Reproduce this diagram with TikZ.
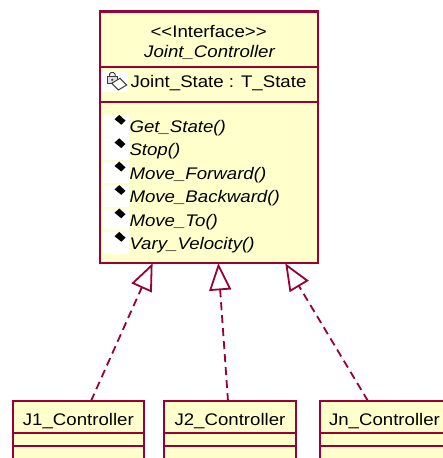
\documentclass[tikz,border=0pt]{standalone}
\usepackage{fontspec}
\setmainfont{Liberation Sans}[FakeStretch=1.11]
\usetikzlibrary{arrows.meta}
\definecolor{umlred}{RGB}{153,0,51}
\definecolor{umlfill}{RGB}{255,255,204}
\definecolor{icongray}{RGB}{60,60,60}
\begin{document}
\begin{tikzpicture}[x=1pt,y=-1pt,
  classbox/.style={draw=umlred, fill=umlfill, line width=2.2pt, rectangle, inner sep=0pt, outer sep=0pt, anchor=north west},
  sepline/.style={draw=umlred, line width=2pt},
  txt/.style={inner sep=0pt, outer sep=0pt, font=\fontsize{16.8}{20}\selectfont},
  itxt/.style={txt, font=\fontsize{16.8}{20}\selectfont\itshape},
  iconbg/.style={fill=white, draw=none},
  opdiamond/.style={fill=black, draw=none},
  realize/.style={draw=umlred, line width=1.8pt, dash pattern=on 8pt off 5pt,
    -{Triangle[length=27pt,width=22pt,fill=white,line width=1.8pt]}}]
\useasboundingbox (0,0) rectangle (443,458);
\fill[white] (0,0) rectangle (443,458);
\clip (0,0) rectangle (443,458);

% ---- interface class ----
\node[classbox, minimum width=217.8pt, minimum height=251.8pt] (main) at (99.8,11.5) {};
\draw[sepline] (99.8,67) -- (317.6,67);
\draw[sepline] (99.8,102) -- (317.6,102);
\node[txt, anchor=base] (stereo) at (208.6,37.5) {<{}<Interface>{}>};
\node[itxt, anchor=base] (cname) at (209.5,57.5) {Joint\_Controller};

% attribute icon
\fill[iconbg] (101,71) rectangle (127.5,92);
\draw[icongray, line width=1pt, rounded corners=1.5pt] (109.5,77) -- (109.5,72.5) -- (115,72.5) -- (115,77);
\draw[icongray, fill=gray!25, line width=1pt] (107,76.5) rectangle (117.5,83);
\fill[icongray] (112.2,79.8) circle (1.2pt);
\draw[icongray, fill=white, line width=1pt] (111.7,83.3) -- (120,78.3) -- (126.7,85) -- (118.3,90) -- cycle;
\node[txt, anchor=base west] (attr) at (130.5,87) {Joint\_State : T\_State};

% operations
\foreach \b/\nm/\t in {132.5/op1/Get\_State(), 155.9/op2/Stop(), 179.3/op3/Move\_Forward(),
                      202.7/op4/Move\_Backward(), 226.1/op5/Move\_To(), 249.5/op6/Vary\_Velocity()}{
  \fill[iconbg] (103,\b-17.5) rectangle (128.5,\b+4);
  \fill[opdiamond] (114.5,\b-13.3) -- (119.3,\b-17.6) -- (125.5,\b-11.9) -- (121.3,\b-7.8) -- cycle;
  \node[itxt, anchor=base west] (\nm) at (129.5,\b) {\t};
}

% ---- implementing classes ----
\node[classbox, minimum width=131.3pt, minimum height=80pt] (j1) at (12.7,401) {};
\draw[sepline] (12.7,433) -- (144,433);
\draw[sepline] (12.7,446) -- (144,446);
\node[txt, anchor=base] (j1t) at (j1.north |- 0,425) {J1\_Controller};

\node[classbox, minimum width=132pt, minimum height=80pt] (j2) at (164,401) {};
\draw[sepline] (164,433) -- (296,433);
\draw[sepline] (164,446) -- (296,446);
\node[txt, anchor=base] (j2t) at (j2.north |- 0,425) {J2\_Controller};

\node[classbox, minimum width=129pt, minimum height=80pt] (jn) at (320,401) {};
\draw[sepline] (320,433) -- (449,433);
\draw[sepline] (320,446) -- (449,446);
\node[txt, anchor=base] (jnt) at (jn.north |- 0,425) {Jn\_Controller};

% ---- realizations ----
\draw[realize] ([xshift=12.65pt]j1.north) -- ([xshift=-56.1pt]main.south);
\draw[realize] ([xshift=-2pt]j2.north) -- ([xshift=9.6pt]main.south);
\draw[realize] ([xshift=-16.5pt]jn.north) -- ([xshift=76.6pt]main.south);
\end{tikzpicture}
\end{document}
